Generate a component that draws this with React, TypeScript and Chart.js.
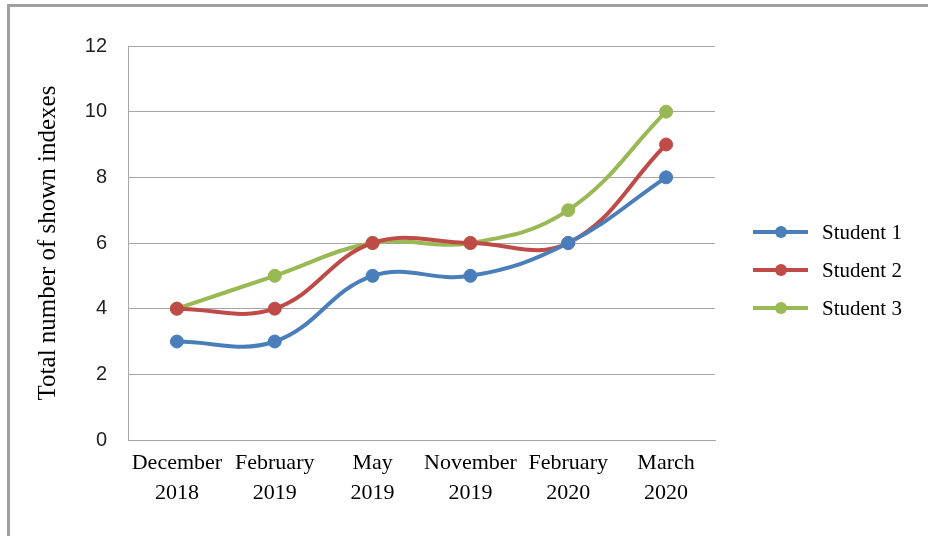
import React, { useEffect, useRef } from "react";
import { Chart, registerables } from "chart.js";

Chart.register(...registerables);

const categories: string[][] = [
  ["December", "2018"],
  ["February", "2019"],
  ["May", "2019"],
  ["November", "2019"],
  ["February", "2020"],
  ["March", "2020"],
];
const student1: number[] = [3, 3, 5, 5, 6, 8];
const student2: number[] = [4, 4, 6, 6, 6, 9];
const student3: number[] = [4, 5, 6, 6, 7, 10];
const seriesNames: string[] = ["Student 1", "Student 2", "Student 3"];
const seriesColors: string[] = ["#4a7ebb", "#be4b48", "#98b954"];
const yTitle = "Total number of shown indexes";

export default function App() {
  const ref = useRef<HTMLCanvasElement | null>(null);

  useEffect(() => {
    if (!ref.current) return;
    const data = [student1, student2, student3];
    const chart = new Chart(ref.current, {
      type: "line",
      data: {
        labels: categories,
        datasets: data.map((d, i) => ({
          label: seriesNames[i],
          data: d,
          borderColor: seriesColors[i],
          backgroundColor: seriesColors[i],
          pointBackgroundColor: seriesColors[i],
          pointBorderColor: seriesColors[i],
          pointRadius: 6.5,
          pointBorderWidth: 1,
          borderWidth: 4,
          tension: 0.4,
          fill: false,
        })),
      },
      options: {
        animation: false,
        responsive: false,
        maintainAspectRatio: false,
        layout: { padding: { left: 29, top: 46, right: 213, bottom: 0 } },
        plugins: { legend: { display: false }, tooltip: { enabled: false } },
        scales: {
          x: {
            offset: true,
            grid: { display: false, drawTicks: false },
            border: { display: true, color: "#a6a6a6", width: 1 },
            ticks: {
              color: "#000",
              padding: 8,
              maxRotation: 0,
              autoSkip: false,
              font: { family: "'Liberation Serif', 'Times New Roman', serif", size: 22, lineHeight: "30px" },
            },
            afterFit: (s: any) => {
              s.height = 96;
            },
          },
          y: {
            min: 0,
            max: 12,
            ticks: {
              stepSize: 2,
              color: "#222",
              padding: 21,
              font: { family: "'Liberation Sans', Arial, sans-serif", size: 20 },
            },
            grid: { color: "#a6a6a6", lineWidth: 1, drawTicks: false },
            border: { display: true, color: "#a6a6a6", width: 1 },
            title: {
              display: true,
              text: yTitle,
              color: "#000",
              padding: 4,
              font: { family: "'Liberation Serif', 'Times New Roman', serif", size: 25 },
            },
            afterFit: (s: any) => {
              s.width = 99;
            },
          },
        },
      },
    });
    return () => chart.destroy();
  }, []);

  const legendY = [232, 270, 308];

  return (
    <div style={{ position: "absolute", left: 0, top: 0, width: 928, height: 536, background: "#fff", overflow: "hidden" }}>
      <canvas ref={ref} width={928} height={536} style={{ position: "absolute", left: 0, top: 0, width: 928, height: 536 }} />
      <div style={{ position: "absolute", left: 7, top: 4, width: 921, height: 3, background: "#a0a0a0" }} />
      <div style={{ position: "absolute", left: 7, top: 4, width: 3, height: 532, background: "#a0a0a0" }} />
      {seriesNames.map((name, i) => (
        <div key={name} style={{ position: "absolute", left: 750, top: legendY[i] - 15, height: 30, width: 170 }}>
          <svg width={62} height={30} style={{ position: "absolute", left: 0, top: 0 }}>
            <line x1={3} y1={15} x2={58} y2={15} stroke={seriesColors[i]} strokeWidth={4} />
            <circle cx={31} cy={15} r={6} fill={seriesColors[i]} />
          </svg>
          <span
            style={{
              position: "absolute",
              left: 72,
              top: 0,
              lineHeight: "30px",
              fontFamily: "'Liberation Serif', 'Times New Roman', serif",
              fontSize: 21,
              color: "#000",
              whiteSpace: "nowrap",
            }}
          >
            {name}
          </span>
        </div>
      ))}
    </div>
  );
}
